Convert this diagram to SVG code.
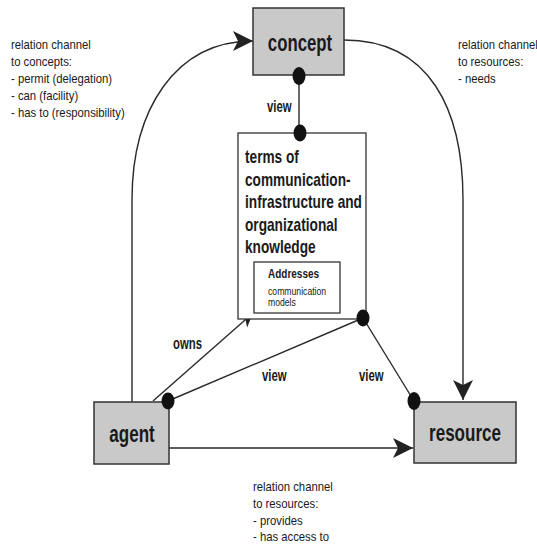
<svg xmlns="http://www.w3.org/2000/svg" width="537" height="548" viewBox="0 0 537 548">
  <style>
    text { font-family: "Liberation Sans", Arial, sans-serif; fill: #1a1a1a; }
    .note { font-size: 13px; }
    .big { font-size: 24px; font-weight: bold; text-anchor: middle; }
    .terms { font-size: 18px; font-weight: bold; }
    .edge { font-size: 16px; font-weight: bold; }
    .box { fill: #c9c9c9; stroke: #333; stroke-width: 1.5; }
    .wbox { fill: #fff; stroke: #333; stroke-width: 1.3; }
    .conn { fill: none; stroke: #2a2a2a; stroke-width: 1.4; }
    .dot { fill: #111; }
  </style>
  <defs>
    <marker id="arr" markerUnits="userSpaceOnUse" markerWidth="24" markerHeight="24" viewBox="-22 -12 24 24" refX="0" refY="0" orient="auto">
      <path d="M0,0 L-20,-10 L-15,0 L-20,10 Z" fill="#222"/>
    </marker>
    <marker id="arrs" markerUnits="userSpaceOnUse" markerWidth="18" markerHeight="18" viewBox="-16 -9 18 18" refX="0" refY="0" orient="auto">
      <path d="M0,0 L-14,-7 L-10,0 L-14,7 Z" fill="#222"/>
    </marker>
  </defs>
  <rect width="537" height="548" fill="#fff"/>

  <g id="connectors">
    <path class="conn" d="M132,402 L132,200 C132,110 175,41 253,41" marker-end="url(#arr)"/>
    <path class="conn" d="M344,40 C430,40 463,110 463,200 L463,400" marker-end="url(#arr)"/>
    <line class="conn" x1="169" y1="448" x2="413" y2="448" marker-end="url(#arr)"/>
    <line class="conn" x1="153" y1="401" x2="253" y2="313" marker-end="url(#arrs)"/>
    <line class="conn" x1="299" y1="77" x2="299" y2="133"/>
    <line class="conn" x1="168" y1="401" x2="363" y2="318"/>
    <line class="conn" x1="363" y1="318" x2="414" y2="401"/>
  </g>

  <g id="node-concept">
    <rect class="box" x="253" y="8" width="91" height="67"/>
    <g transform="translate(300,0) scale(0.7,1)"><text class="big" x="0" y="51">concept</text></g>
  </g>

  <g id="node-terms">
    <rect class="wbox" x="238" y="133" width="128" height="186"/>
    <g transform="translate(245,0) scale(0.76,1)">
      <text class="terms" x="0" y="163">terms of</text>
      <text class="terms" x="0" y="186">communication-</text>
      <text class="terms" x="0" y="208">infrastructure and</text>
      <text class="terms" x="0" y="231">organizational</text>
      <text class="terms" x="0" y="253">knowledge</text>
    </g>
  </g>

  <g id="node-addresses">
    <rect class="wbox" x="254" y="262" width="86" height="51"/>
    <g transform="translate(268,0) scale(0.8,1)"><text x="0" y="278" style="font-size:12.5px;font-weight:bold">Addresses</text></g>
    <g transform="translate(268,0) scale(0.84,1)">
      <text x="0" y="295" style="font-size:10.3px">communication</text>
      <text x="0" y="306" style="font-size:10.3px">models</text>
    </g>
  </g>

  <g id="node-agent">
    <rect class="box" x="94" y="402" width="75" height="62"/>
    <g transform="translate(132,0) scale(0.71,1)"><text class="big" x="0" y="442">agent</text></g>
  </g>

  <g id="node-resource">
    <rect class="box" x="414" y="402" width="102" height="61"/>
    <g transform="translate(465,0) scale(0.71,1)"><text class="big" x="0" y="441">resource</text></g>
  </g>

  <g id="dots">
    <ellipse class="dot" cx="299" cy="76" rx="6.5" ry="9"/>
    <ellipse class="dot" cx="300" cy="133" rx="6.5" ry="8.5"/>
    <ellipse class="dot" cx="363" cy="318" rx="6.5" ry="8.5"/>
    <ellipse class="dot" cx="168" cy="401" rx="6.5" ry="8.5"/>
    <ellipse class="dot" cx="414" cy="401" rx="6.5" ry="9"/>
  </g>

  <g id="edge-labels">
    <g transform="translate(267,0) scale(0.71,1)"><text class="edge" x="0" y="112">view</text></g>
    <g transform="translate(173,0) scale(0.71,1)"><text class="edge" x="0" y="349">owns</text></g>
    <g transform="translate(262,0) scale(0.71,1)"><text class="edge" x="0" y="381">view</text></g>
    <g transform="translate(359,0) scale(0.71,1)"><text class="edge" x="0" y="381">view</text></g>
  </g>

  <g id="notes">
    <g transform="translate(11,0) scale(0.87,1)">
      <text class="note" x="0" y="49">relation channel</text>
      <text class="note" x="0" y="66">to concepts:</text>
      <text class="note" x="0" y="83">- permit (delegation)</text>
      <text class="note" x="0" y="100">- can (facility)</text>
      <text class="note" x="0" y="117">- has to (responsibility)</text>
    </g>
    <g transform="translate(458,0) scale(0.87,1)">
      <text class="note" x="0" y="49">relation channel</text>
      <text class="note" x="0" y="66">to resources:</text>
      <text class="note" x="0" y="83">- needs</text>
    </g>
    <g transform="translate(253,0) scale(0.87,1)">
      <text class="note" x="0" y="491">relation channel</text>
      <text class="note" x="0" y="508">to resources:</text>
      <text class="note" x="0" y="525">- provides</text>
      <text class="note" x="0" y="541">- has access to</text>
    </g>
  </g>
</svg>
